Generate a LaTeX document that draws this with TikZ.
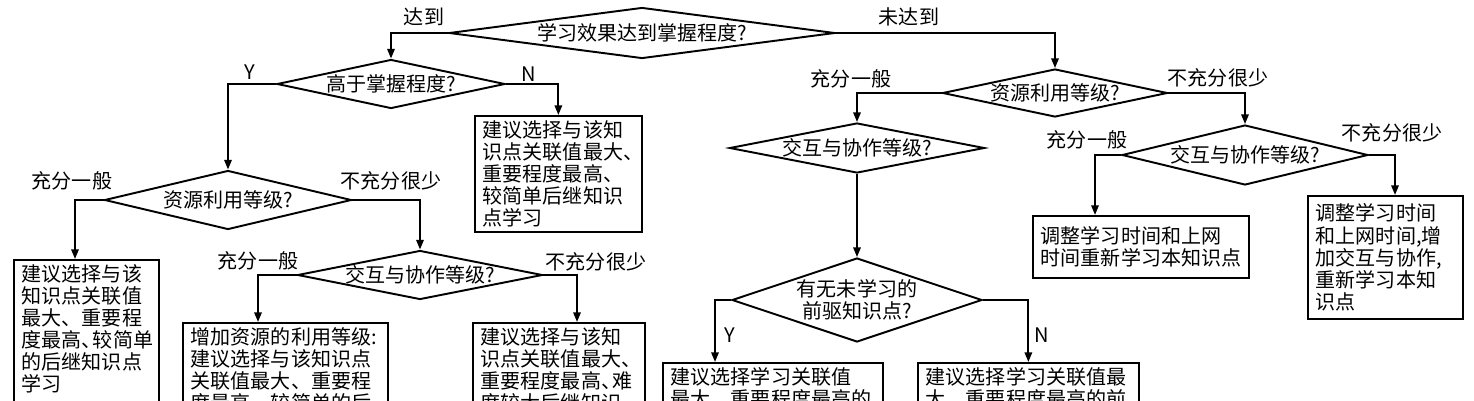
\documentclass[tikz,border=0pt]{standalone}
\usepackage{fontspec}
\usepackage{tikz}
\usetikzlibrary{arrows.meta, positioning, calc, shapes.geometric}
\newfontfamily\cjk{Noto Sans CJK SC}
\newcommand{\dun}{、\kern-0.45em}

\begin{document}
\begin{tikzpicture}[x=0.02cm, y=-0.02cm,
    font=\cjk\fontsize{11.4}{12.6}\selectfont,
    ask/.style={diamond, draw, line width=1.1pt, inner sep=-2pt, align=center},
    tip/.style={draw, line width=1.1pt, anchor=north west, align=left,
                inner xsep=4.5pt, inner ysep=2.5pt},
    cut/.style={tip, text depth=3cm},
    flow/.style={draw, line width=1.1pt, -{Triangle[length=5.5pt,width=4.2pt]}},
    lab/.style={inner sep=0pt}]
  \useasboundingbox (0,0) rectangle (1474,400);
  \clip (0,0) rectangle (1474,400);
  \node[ask, minimum width=7.72cm, minimum height=1.02cm, aspect=7.6] (goal) at (642,33) {学习效果达到掌握程度?};
  \node[ask, minimum width=4.56cm, minimum height=0.98cm, aspect=4.65] (above) at (391,84) {高于掌握程度?};
  \node[ask, minimum width=4.94cm, minimum height=1.18cm, aspect=4.2] (resA) at (228,200) {资源利用等级?};
  \node[ask, minimum width=4.9cm, minimum height=0.98cm, aspect=5] (colA) at (420,275) {交互与协作等级?};
  \node[ask, minimum width=4.5cm, minimum height=0.96cm, aspect=4.7] (resB) at (1055,93) {资源利用等级?};
  \node[ask, minimum width=5.1cm, minimum height=1.0cm, aspect=5.1] (colB) at (857,148) {交互与协作等级?};
  \node[ask, minimum width=5.0cm, minimum height=1.68cm, aspect=3] (prior) at (857,300) {有无未学习的\\前驱知识点?};
  \node[ask, minimum width=4.92cm, minimum height=1.2cm, aspect=4.1] (colC) at (1245,155) {交互与协作等级?};
  \node[tip, text width=3.02cm] (tipN) at (474,115) {建议选择与该知\\识点关联值最大、\\重要程度最高、\\较简单后继知识\\点学习};
  \node[cut, text width=2.58cm] (tipRes) at (13,259) {建议选择与该\\知识点关联值\\最大、重要程\\度最高\dun 较简单\\的后继知识点\\学习};
  \node[cut, text width=3.78cm] (tipAdd) at (182,322) {增加资源的利用等级:\\建议选择与该知识点\\关联值最大、重要程\\度最高、较简单的后};
  \node[cut, text width=3.12cm] (tipHard) at (472,322) {建议选择与该知\\识点关联值最大、\\重要程度最高\dun 难\\度较大后继知识};
  \node[cut, text width=4.08cm] (tipPre) at (662,362) {建议选择学习关联值\\最大、重要程度最高的};
  \node[cut, text width=4.10cm] (tipNext) at (917,362) {建议选择学习关联值最\\大、重要程度最高的前};
  \node[tip, text width=4.0cm, minimum height=1.24cm] (tipTime) at (1032,215) {调整学习时间和上网\\时间重新学习本知识点};
  \node[tip, text width=2.78cm, minimum height=2.46cm] (tipMore) at (1307,195) {调整学习时间\\和上网时间,增\\加交互与协作,\\重新学习本知\\识点};
  \node[lab] (l1) at (424,17) {达到};
  \node[lab] (l2) at (909,17) {未达到};
  \node[lab] (l3) at (250,72) {Y};
  \node[lab] (l4) at (529,74) {N};
  \node[lab] (l5) at (72,181) {充分一般};
  \node[lab] (l6) at (391,181) {不充分很少};
  \node[lab] (l7) at (258,261) {充分一般};
  \node[lab] (l8) at (596,262) {不充分很少};
  \node[lab] (l9) at (851,79) {充分一般};
  \node[lab] (l10) at (1218,78) {不充分很少};
  \node[lab] (l11) at (1087,140) {充分一般};
  \node[lab] (l12) at (1392,133) {不充分很少};
  \node[lab] (l13) at (730,335) {Y};
  \node[lab] (l14) at (1042,335) {N};
  \draw[flow] (goal.west) -| (above.north);
  \draw[flow] (goal.east) -| (resB.north);
  \draw[flow] (above.west) -| (resA.north);
  \draw[flow] (above.east) -| (tipN.north);
  \draw[flow] (resA.west) -| ($(tipRes.north west)+(62,0)$);
  \draw[flow] (resA.east) -| (colA.north);
  \draw[flow] (colA.west) -| ($(tipAdd.north west)+(76,0)$);
  \draw[flow] (colA.east) -| ($(tipHard.north west)+(105,0)$);
  \draw[flow] (resB.west) -| (colB.north);
  \draw[flow] (resB.east) -| (colC.north);
  \draw[flow] (colB.south) -- (prior.north);
  \draw[flow] (prior.west) -| ($(tipPre.north west)+(53,0)$);
  \draw[flow] (prior.east) -| (tipNext.north);
  \draw[flow] (colC.west) -| ($(tipTime.north west)+(63,0)$);
  \draw[flow] (colC.east) -| ($(tipMore.north west)+(88,0)$);
\end{tikzpicture}
\end{document}
